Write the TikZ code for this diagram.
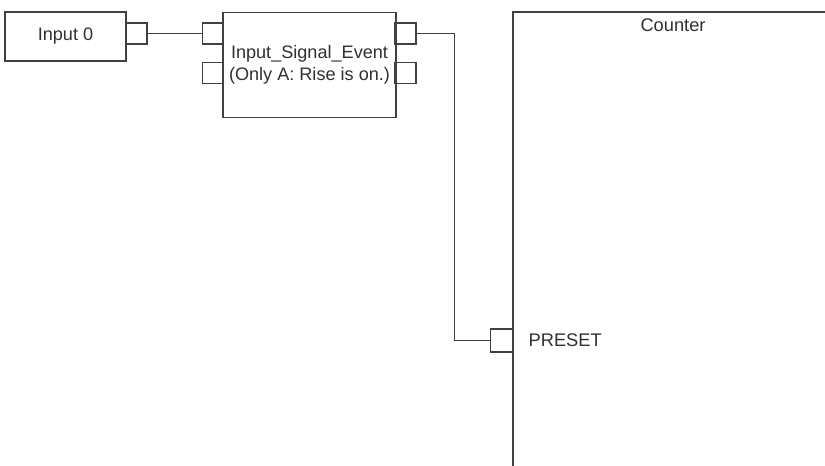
\documentclass[tikz,border=0pt]{standalone}
\usepackage{fontspec}
\setmainfont{Liberation Sans}
\definecolor{wire}{HTML}{404040}
\definecolor{txt}{HTML}{303030}
\begin{document}
\begin{tikzpicture}[x=0.02cm, y=-0.02cm, line width=0.75pt,
  blk/.style={draw=wire, rectangle, inner sep=0pt, text=txt,
    font=\fontsize{10.3}{12.6}\selectfont},
  port/.style={draw=wire, rectangle, inner sep=0pt,
    minimum width=0.42cm, minimum height=0.42cm},
  lbl/.style={text=txt, inner sep=0pt, font=\fontsize{10.4}{12.6}\selectfont}]
\clip (0,0) rectangle (825,466);
% blocks
\node[blk, minimum width=2.42cm, minimum height=0.98cm] (in0) at (65.5,36.5) {Input 0};
\node[port] (in0-o) at (136.5,33.5) {};
\node[blk, minimum width=3.46cm, minimum height=2.1cm, align=center] (ise) at (309.5,65)
  {Input\_Signal\_Event\\(Only A: Rise is on.)};
\node[port] (ise-i1) at (213,33.5) {};
\node[port] (ise-i2) at (213,73) {};
\node[port] (ise-o1) at (405.5,33.5) {};
\node[port] (ise-o2) at (405.5,73) {};
% counter, runs off the page
\draw[wire] (513,12) rectangle (900,520);
\node[lbl] (cnt) at (673,25) {Counter};
\node[port, minimum width=0.44cm, minimum height=0.46cm] (preset) at (501.5,340.5) {};
\node[lbl, anchor=west] (preset-l) at (528,340.5) {PRESET};
% wires
\draw[wire] (in0-o.east)--(ise-i1.west);
\draw[wire] (ise-o1.east)--++(38,0) |- (preset.west);
\end{tikzpicture}
\end{document}
